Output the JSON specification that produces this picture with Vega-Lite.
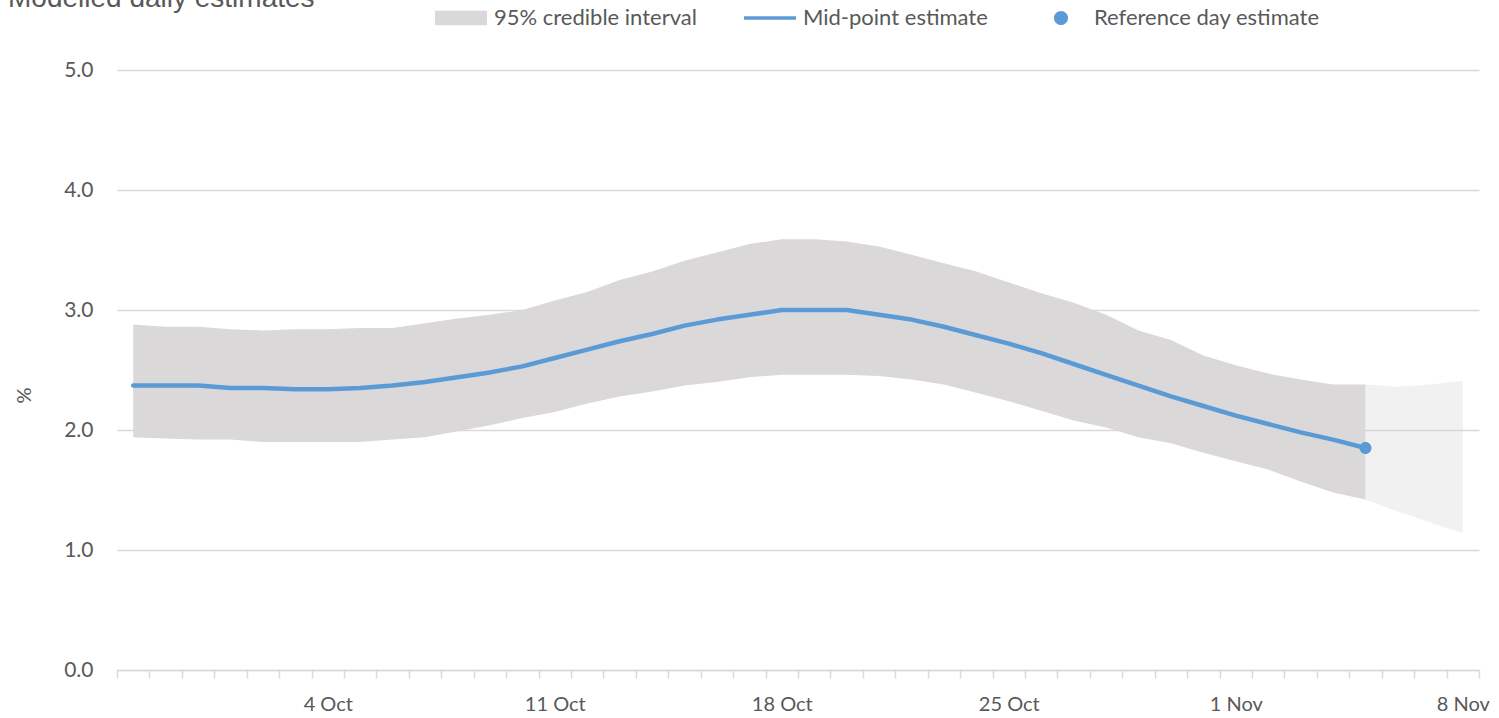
{
  "$schema": "https://vega.github.io/schema/vega-lite/v6.json",
  "width": 1362,
  "height": 600,
  "autosize": "none",
  "padding": {"left": 117, "top": 70, "right": 20, "bottom": 48},
  "background": "white",
  "config": {
    "view": {"stroke": null},
    "font": "Lato",
    "axisY": {
      "domain": false,
      "ticks": false,
      "grid": true,
      "gridColor": "#D9D9D9",
      "gridWidth": 1.5,
      "labelFontSize": 21,
      "labelColor": "#595959",
      "labelPadding": 24,
      "titleFontSize": 20,
      "titleFontWeight": "normal",
      "titleColor": "#595959",
      "titleAngle": -90,
      "titleX": -93,
      "titleY": 325,
      "titleAlign": "center",
      "titleBaseline": "middle"
    }
  },
  "title": {
    "text": "Modelled daily estimates",
    "anchor": "start",
    "frame": "group",
    "font": "Liberation Sans",
    "fontSize": 28,
    "fontWeight": "normal",
    "color": "#595959",
    "baseline": "alphabetic",
    "dx": -109,
    "dy": 53,
    "offset": 10
  },
  "datasets": {
    "main": [
      {"date": "28 Sep", "upper": 2.88, "mid": 2.37, "lower": 1.94},
      {"date": "29 Sep", "upper": 2.86, "mid": 2.37, "lower": 1.93},
      {"date": "30 Sep", "upper": 2.86, "mid": 2.37, "lower": 1.92},
      {"date": "1 Oct", "upper": 2.84, "mid": 2.35, "lower": 1.92},
      {"date": "2 Oct", "upper": 2.83, "mid": 2.35, "lower": 1.90},
      {"date": "3 Oct", "upper": 2.84, "mid": 2.34, "lower": 1.90},
      {"date": "4 Oct", "upper": 2.84, "mid": 2.34, "lower": 1.90},
      {"date": "5 Oct", "upper": 2.85, "mid": 2.35, "lower": 1.90},
      {"date": "6 Oct", "upper": 2.85, "mid": 2.37, "lower": 1.92},
      {"date": "7 Oct", "upper": 2.89, "mid": 2.40, "lower": 1.94},
      {"date": "8 Oct", "upper": 2.93, "mid": 2.44, "lower": 1.99},
      {"date": "9 Oct", "upper": 2.96, "mid": 2.48, "lower": 2.04},
      {"date": "10 Oct", "upper": 3.00, "mid": 2.53, "lower": 2.10},
      {"date": "11 Oct", "upper": 3.08, "mid": 2.60, "lower": 2.15},
      {"date": "12 Oct", "upper": 3.15, "mid": 2.67, "lower": 2.22},
      {"date": "13 Oct", "upper": 3.25, "mid": 2.74, "lower": 2.28},
      {"date": "14 Oct", "upper": 3.32, "mid": 2.80, "lower": 2.32},
      {"date": "15 Oct", "upper": 3.41, "mid": 2.87, "lower": 2.37},
      {"date": "16 Oct", "upper": 3.48, "mid": 2.92, "lower": 2.40},
      {"date": "17 Oct", "upper": 3.55, "mid": 2.96, "lower": 2.44},
      {"date": "18 Oct", "upper": 3.59, "mid": 3.00, "lower": 2.46},
      {"date": "19 Oct", "upper": 3.59, "mid": 3.00, "lower": 2.46},
      {"date": "20 Oct", "upper": 3.57, "mid": 3.00, "lower": 2.46},
      {"date": "21 Oct", "upper": 3.53, "mid": 2.96, "lower": 2.45},
      {"date": "22 Oct", "upper": 3.46, "mid": 2.92, "lower": 2.42},
      {"date": "23 Oct", "upper": 3.39, "mid": 2.86, "lower": 2.38},
      {"date": "24 Oct", "upper": 3.32, "mid": 2.79, "lower": 2.31},
      {"date": "25 Oct", "upper": 3.23, "mid": 2.72, "lower": 2.24},
      {"date": "26 Oct", "upper": 3.14, "mid": 2.64, "lower": 2.16},
      {"date": "27 Oct", "upper": 3.06, "mid": 2.55, "lower": 2.08},
      {"date": "28 Oct", "upper": 2.96, "mid": 2.46, "lower": 2.02},
      {"date": "29 Oct", "upper": 2.83, "mid": 2.37, "lower": 1.94},
      {"date": "30 Oct", "upper": 2.75, "mid": 2.28, "lower": 1.89},
      {"date": "31 Oct", "upper": 2.62, "mid": 2.20, "lower": 1.81},
      {"date": "1 Nov", "upper": 2.54, "mid": 2.12, "lower": 1.74},
      {"date": "2 Nov", "upper": 2.47, "mid": 2.05, "lower": 1.67},
      {"date": "3 Nov", "upper": 2.42, "mid": 1.98, "lower": 1.57},
      {"date": "4 Nov", "upper": 2.38, "mid": 1.92, "lower": 1.48},
      {"date": "5 Nov", "upper": 2.38, "mid": 1.85, "lower": 1.42}
    ],
    "ext": [
      {"date": "5 Nov", "upper": 2.38, "lower": 1.42},
      {"date": "6 Nov", "upper": 2.36, "lower": 1.32},
      {"date": "7 Nov", "upper": 2.38, "lower": 1.23},
      {"date": "8 Nov", "upper": 2.41, "lower": 1.14}
    ],
    "ref": [
      {"date": "5 Nov", "value": 1.85}
    ]
  },
  "encoding": {
    "x": {
      "field": "date",
      "type": "ordinal",
      "scale": {
        "type": "band",
        "paddingInner": 0,
        "paddingOuter": 0,
        "domain": ["28 Sep", "29 Sep", "30 Sep", "1 Oct", "2 Oct", "3 Oct", "4 Oct", "5 Oct", "6 Oct", "7 Oct", "8 Oct", "9 Oct", "10 Oct", "11 Oct", "12 Oct", "13 Oct", "14 Oct", "15 Oct", "16 Oct", "17 Oct", "18 Oct", "19 Oct", "20 Oct", "21 Oct", "22 Oct", "23 Oct", "24 Oct", "25 Oct", "26 Oct", "27 Oct", "28 Oct", "29 Oct", "30 Oct", "31 Oct", "1 Nov", "2 Nov", "3 Nov", "4 Nov", "5 Nov", "6 Nov", "7 Nov", "8 Nov"]
      },
      "axis": {
        "title": null,
        "labelExpr": "indexof(['4 Oct','11 Oct','18 Oct','25 Oct','1 Nov','8 Nov'], datum.value) >= 0 ? datum.value : ''",
        "labelAngle": 0,
        "labelFontSize": 20,
        "labelColor": "#595959",
        "labelPadding": 16,
        "labelOverlap": false,
        "labelBound": false,
        "tickBand": "extent",
        "tickColor": "#D9D9D9",
        "tickWidth": 1.5,
        "tickSize": 8,
        "domainColor": "#D9D9D9",
        "domainWidth": 1.5,
        "grid": false
      }
    }
  },
  "layer": [
    {
      "data": {"name": "ext"},
      "mark": {"type": "area", "fill": "#D9D9D9", "opacity": 0.36},
      "encoding": {
        "y": {"field": "upper", "type": "quantitative", "scale": {"domain": [0, 5]}, "axis": {"title": "%", "values": [0, 1, 2, 3, 4, 5], "format": ".1f"}},
        "y2": {"field": "lower"}
      }
    },
    {
      "data": {"name": "main"},
      "mark": {"type": "area", "fill": "#DAD8D9", "opacity": 1},
      "encoding": {
        "y": {"field": "upper", "type": "quantitative", "scale": {"domain": [0, 5]}, "axis": {"title": "%", "values": [0, 1, 2, 3, 4, 5], "format": ".1f"}},
        "y2": {"field": "lower"}
      }
    },
    {
      "data": {"name": "main"},
      "mark": {"type": "line", "color": "#5B9BD5", "strokeWidth": 4.5, "strokeCap": "round", "strokeJoin": "round"},
      "encoding": {
        "y": {"field": "mid", "type": "quantitative", "scale": {"domain": [0, 5]}, "axis": {"title": "%", "values": [0, 1, 2, 3, 4, 5], "format": ".1f"}}
      }
    },
    {
      "data": {"name": "ref"},
      "mark": {"type": "point", "filled": true, "size": 1975, "opacity": 1, "strokeWidth": 0},
      "encoding": {
        "y": {"field": "value", "type": "quantitative", "scale": {"domain": [0, 5]}, "axis": {"title": "%", "values": [0, 1, 2, 3, 4, 5], "format": ".1f"}},
        "color": {
          "datum": "Reference day estimate",
          "scale": {
            "domain": ["95% credible interval", "Mid-point estimate", "Reference day estimate"],
            "range": ["#DAD8D9", "#5B9BD5", "#5B9BD5"]
          },
          "legend": {
            "title": null,
            "orient": "none",
            "direction": "horizontal",
            "legendX": 318,
            "legendY": -78,
            "padding": 0,
            "symbolSize": 2704,
            "symbolOpacity": 1,
            "symbolStrokeWidth": 0,
            "labelOffset": 7,
            "columnPadding": 47,
            "labelFontSize": 22,
            "labelColor": "#595959",
            "labelFont": "Lato",
            "labelLimit": 400
          }
        },
        "shape": {
          "datum": "Reference day estimate",
          "scale": {
            "domain": ["95% credible interval", "Mid-point estimate", "Reference day estimate"],
            "range": ["M-1,-0.28H1V0.28H-1Z", "M-1,-0.07H1V0.07H-1Z", "M0,-0.27A0.27,0.27,0,1,1,0,0.27A0.27,0.27,0,1,1,0,-0.27Z"]
          },
          "legend": {
            "title": null,
            "orient": "none",
            "direction": "horizontal",
            "legendX": 318,
            "legendY": -78,
            "padding": 0,
            "symbolSize": 2704,
            "symbolOpacity": 1,
            "symbolStrokeWidth": 0,
            "labelOffset": 7,
            "columnPadding": 47,
            "labelFontSize": 22,
            "labelColor": "#595959",
            "labelFont": "Lato",
            "labelLimit": 400
          }
        }
      }
    }
  ]
}
